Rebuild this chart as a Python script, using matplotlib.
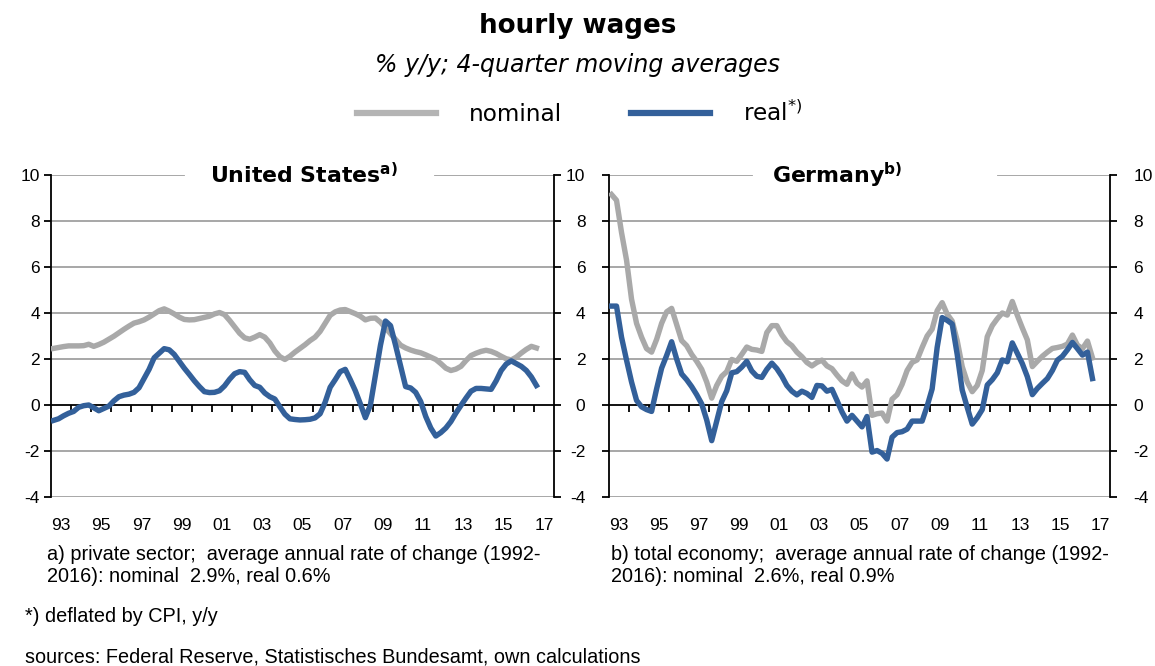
import matplotlib
matplotlib.use("Agg")
import matplotlib.pyplot as plt
import numpy as np

plt.rcParams["axes.unicode_minus"] = False

# quarterly values, first quarter of 1993 onwards
us_nominal = [2.46, 2.50, 2.54, 2.57, 2.57, 2.57, 2.58, 2.64, 2.55, 2.63, 2.73, 2.86,
              2.99, 3.14, 3.29, 3.43, 3.56, 3.62, 3.70, 3.82, 3.96, 4.10, 4.18, 4.08,
              3.96, 3.82, 3.72, 3.70, 3.71, 3.76, 3.81, 3.86, 3.96, 4.02, 3.93, 3.68,
              3.40, 3.12, 2.92, 2.86, 2.95, 3.06, 2.95, 2.70, 2.35, 2.10, 1.98, 2.12,
              2.30, 2.46, 2.62, 2.80, 2.95, 3.20, 3.55, 3.90, 4.05, 4.13, 4.15, 4.06,
              3.97, 3.86, 3.70, 3.77, 3.78, 3.60, 3.35, 3.10, 2.85, 2.60, 2.48, 2.39,
              2.32, 2.27, 2.18, 2.08, 1.98, 1.80, 1.60, 1.50, 1.56, 1.68, 1.93, 2.15,
              2.25, 2.33, 2.38, 2.33, 2.24, 2.12, 2.01, 1.96, 2.08, 2.26, 2.42, 2.55, 2.48]
us_real = [-0.67, -0.60, -0.47, -0.36, -0.28, -0.10, -0.03, 0.00, -0.12, -0.25, -0.15, -0.05,
           0.18, 0.36, 0.43, 0.47, 0.55, 0.75, 1.15, 1.55, 2.05, 2.25, 2.45, 2.40,
           2.20, 1.90, 1.60, 1.33, 1.05, 0.80, 0.58, 0.54, 0.55, 0.62, 0.83, 1.12,
           1.36, 1.45, 1.42, 1.10, 0.85, 0.77, 0.52, 0.36, 0.26, -0.08, -0.40, -0.60,
           -0.63, -0.65, -0.64, -0.62, -0.56, -0.38, 0.12, 0.77, 1.10, 1.45, 1.55, 1.10,
           0.62, 0.05, -0.55, 0.00, 1.30, 2.60, 3.65, 3.45, 2.60, 1.70, 0.80, 0.74,
           0.55, 0.15, -0.50, -1.00, -1.35, -1.20, -1.00, -0.72, -0.35, -0.02, 0.30, 0.60,
           0.72, 0.72, 0.70, 0.68, 1.05, 1.50, 1.78, 1.92, 1.80, 1.68, 1.50, 1.22, 0.85]
de_nominal = [9.15, 8.90, 7.50, 6.30, 4.60, 3.55, 2.95, 2.45, 2.30, 2.85, 3.55, 4.05,
              4.20, 3.50, 2.80, 2.58, 2.20, 1.90, 1.55, 1.00, 0.30, 0.85, 1.25, 1.45,
              1.98, 1.90, 2.20, 2.52, 2.42, 2.39, 2.33, 3.15, 3.45, 3.45, 3.05, 2.75,
              2.58, 2.30, 2.10, 1.85, 1.70, 1.85, 1.95, 1.70, 1.58, 1.30, 1.05, 0.90,
              1.35, 0.95, 0.78, 1.05, -0.45, -0.38, -0.35, -0.70, 0.25, 0.45, 0.90, 1.50,
              1.85, 1.96, 2.50, 3.00, 3.30, 4.10, 4.45, 3.95, 3.65, 2.80, 1.67, 1.00,
              0.58, 0.85, 1.50, 2.97, 3.45, 3.75, 4.00, 3.91, 4.50, 3.90, 3.35, 2.83,
              1.67, 1.90, 2.12, 2.30, 2.46, 2.50, 2.55, 2.65, 3.04, 2.60, 2.45, 2.78, 2.05]
de_real = [4.30, 4.30, 2.95, 1.95, 1.00, 0.20, -0.08, -0.20, -0.28, 0.70, 1.60, 2.15,
           2.75, 2.00, 1.35, 1.10, 0.80, 0.45, 0.05, -0.65, -1.55, -0.70, 0.15, 0.62,
           1.40, 1.45, 1.65, 1.90, 1.48, 1.25, 1.20, 1.55, 1.82, 1.58, 1.25, 0.85,
           0.60, 0.44, 0.60, 0.50, 0.33, 0.85, 0.83, 0.60, 0.68, 0.20, -0.30, -0.70,
           -0.45, -0.70, -0.95, -0.50, -2.05, -1.98, -2.10, -2.35, -1.40, -1.20, -1.16, -1.05,
           -0.70, -0.70, -0.70, -0.05, 0.70, 2.50, 3.80, 3.68, 3.52, 2.20, 0.65, -0.10,
           -0.83, -0.55, -0.20, 0.87, 1.10, 1.40, 1.96, 1.88, 2.70, 2.25, 1.80, 1.23,
           0.45, 0.72, 0.94, 1.15, 1.50, 1.95, 2.12, 2.40, 2.72, 2.45, 2.17, 2.30, 1.15]

start_year = 1993
label_years = list(range(1993, 2018, 2))
year_labels = ["%02d" % (y % 100) for y in label_years]
y_ticks = [-4, -2, 0, 2, 4, 6, 8, 10]

grey = "#a9a9a9"
blue = "#33609a"
grid_c = "#a0a0a0"
tick_font = "Liberation Sans"

fig = plt.figure(figsize=(11.55, 6.66), dpi=100)
ax_us = fig.add_axes([51 / 1155, 1 - 497 / 666, 503 / 1155, 322 / 666])
ax_de = fig.add_axes([609 / 1155, 1 - 497 / 666, 501 / 1155, 322 / 666])


def draw_panel(ax, nominal, real, title, sup, tx, gap, left_pad, right_labels):
    x = start_year + (np.arange(len(nominal)) + 0.5) / 4
    ax.set_xlim(start_year, start_year + 25)
    ax.set_ylim(-4, 10)

    for y in y_ticks:
        if y == 0 or y == 10:
            continue
        ax.axhline(y, color=grid_c, lw=1.3, zorder=1)
    # top gridline, broken by the panel title
    ax.axhline(10, xmin=0, xmax=gap[0], color=grid_c, lw=1.3, zorder=1)
    ax.axhline(10, xmin=gap[1], xmax=1, color=grid_c, lw=1.3, zorder=1)

    ax.plot(x, nominal, color=grey, lw=3.9, solid_joinstyle="round", zorder=3)
    ax.plot(x, real, color=blue, lw=3.9, solid_joinstyle="round", zorder=4)

    ax.spines["top"].set_visible(False)
    ax.spines["bottom"].set_position(("data", 0))
    for s in ["left", "right", "bottom"]:
        ax.spines[s].set_color("black")
        ax.spines[s].set_linewidth(1.3)
    ax.spines["bottom"].set_zorder(2)

    ax.set_yticks(y_ticks)
    ax.tick_params(axis="y", which="both", direction="out", length=5, width=1.3,
                   labelsize=12.5, left=True, right=True,
                   labelleft=True, labelright=right_labels, pad=left_pad)
    for lab in ax.get_yticklabels():
        lab.set_fontfamily(tick_font)

    ax.set_xticks([y + 1 for y in range(start_year, start_year + 24)], minor=True)
    ax.set_xticks([y + 0.5 for y in label_years])
    ax.set_xticklabels(year_labels, fontfamily=tick_font, fontsize=12.5)
    ax.tick_params(axis="x", which="major", length=0, pad=81)
    ax.tick_params(axis="x", which="minor", direction="out", length=5, width=1.3)

    ax.text(tx, 10, title + r"$^{\mathbf{" + sup + "}}$", transform=ax.get_yaxis_transform(),
            ha="center", va="center", fontsize=15.8, fontweight="bold",
            fontfamily="DejaVu Sans", zorder=5)


draw_panel(ax_us, us_nominal, us_real, "United States", "a)", 0.503, (0.264, 0.763), 3, False)
draw_panel(ax_de, de_nominal, de_real, "Germany", "b)", 0.455, (0.285, 0.776), 12, True)
for lab in ax_de.get_yticklabels(which="both"):
    lab.set_fontfamily(tick_font)

fig.text(0.5, 1 - 26 / 666, "hourly wages", ha="center", va="center",
         fontsize=18.8, fontweight="bold")
fig.text(0.5, 1 - 65 / 666, "% y/y; 4-quarter moving averages", ha="center", va="center",
         fontsize=17, style="italic")

h1, = ax_us.plot([], [], color="#b4b4b4", lw=4.5)
h2, = ax_us.plot([], [], color=blue, lw=4.5)
fig.legend([h1, h2], ["nominal", r"real$^{*)}$"], loc="center",
           bbox_to_anchor=(0.502, 1 - 113 / 666), ncol=2, frameon=False,
           fontsize=16.7, handlelength=3.4, handletextpad=1.4, columnspacing=3.0)

foot = dict(fontfamily=tick_font, fontsize=14.3, va="center", ha="left")
fig.text(47 / 1155, 1 - 554 / 666, "a) private sector;  average annual rate of change (1992-", **foot)
fig.text(47 / 1155, 1 - 577 / 666, "2016): nominal  2.9%, real 0.6%", **foot)
fig.text(611 / 1155, 1 - 554 / 666, "b) total economy;  average annual rate of change (1992-", **foot)
fig.text(611 / 1155, 1 - 577 / 666, "2016): nominal  2.6%, real 0.9%", **foot)
fig.text(25 / 1155, 1 - 617 / 666, "*) deflated by CPI, y/y", **foot)
fig.text(25 / 1155, 1 - 657 / 666, "sources: Federal Reserve, Statistisches Bundesamt, own calculations", **foot)

fig.savefig("out.png", dpi=100)
